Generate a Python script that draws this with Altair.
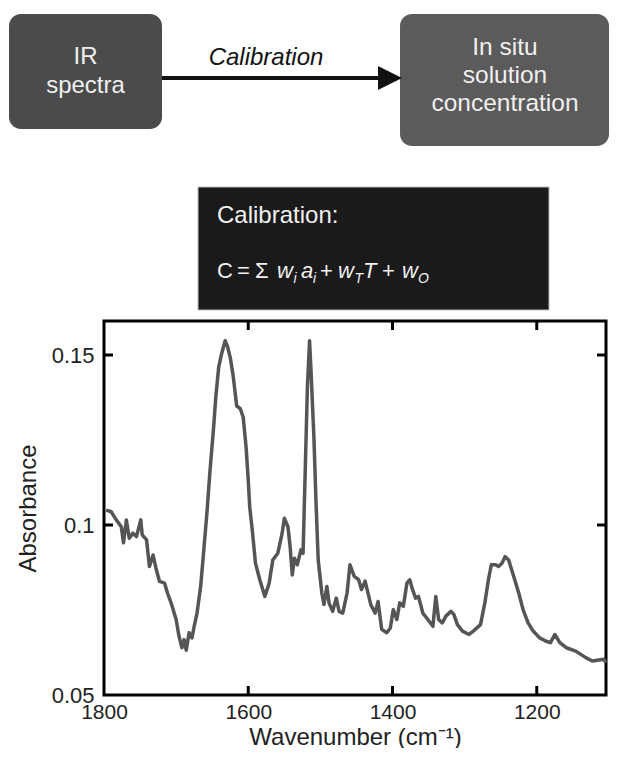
import altair as alt
import pandas as pd

# ---- data ----
wavenumber = [1797, 1790, 1783, 1776, 1773, 1769, 1765, 1760, 1755, 1749, 1747, 1741, 1737, 1732, 1728,
              1723, 1716, 1712, 1707, 1700, 1696, 1692, 1689, 1686, 1682, 1678, 1675, 1671, 1666, 1662,
              1657, 1653, 1648, 1645, 1641, 1637, 1632, 1629, 1625, 1621, 1616, 1611, 1607, 1603, 1600,
              1598, 1594, 1590, 1584, 1577, 1571, 1566, 1559, 1553, 1550, 1545, 1542, 1539, 1536, 1532,
              1527, 1524, 1521, 1518, 1515, 1513, 1509, 1506, 1503, 1498, 1495, 1491, 1488, 1483, 1478,
              1474, 1469, 1463, 1459, 1453, 1447, 1443, 1438, 1430, 1424, 1420, 1415, 1408, 1403, 1399,
              1394, 1390, 1385, 1380, 1376, 1373, 1368, 1364, 1358, 1351, 1344, 1340, 1336, 1331, 1326,
              1319, 1315, 1310, 1303, 1294, 1288, 1278, 1272, 1267, 1263, 1257, 1253, 1248, 1244, 1239,
              1232, 1225, 1219, 1212, 1205, 1196, 1187, 1181, 1175, 1168, 1159, 1146, 1132, 1123, 1114,
              1107, 1104]
absorbance = [0.1044, 0.1039, 0.1015, 0.0995, 0.0948, 0.1015, 0.0961, 0.0976, 0.0966, 0.1015, 0.0971, 0.0956, 0.0878, 0.0912, 0.0873,
              0.0834, 0.0829, 0.0800, 0.0771, 0.0722, 0.0673, 0.0639, 0.0663, 0.0632, 0.0683, 0.0668, 0.0702, 0.0741, 0.0819, 0.0917,
              0.1044, 0.1161, 0.1288, 0.1376, 0.1464, 0.1503, 0.1542, 0.1527, 0.1493, 0.1440, 0.1350, 0.1342, 0.1317, 0.1229, 0.1132,
              0.1054, 0.0976, 0.0888, 0.0839, 0.0790, 0.0829, 0.0897, 0.0917, 0.0976, 0.1020, 0.0995, 0.0937, 0.0853, 0.0902, 0.0883,
              0.0927, 0.0917, 0.1161, 0.1405, 0.1542, 0.1454, 0.1259, 0.1064, 0.0897, 0.0800, 0.0766, 0.0819, 0.0771, 0.0746, 0.0785,
              0.0746, 0.0741, 0.0800, 0.0883, 0.0849, 0.0839, 0.0810, 0.0835, 0.0765, 0.0741, 0.0775, 0.0693, 0.0683, 0.0697, 0.0751,
              0.0722, 0.0771, 0.0761, 0.0829, 0.0839, 0.0815, 0.0785, 0.0790, 0.0741, 0.0722, 0.0702, 0.0790, 0.0722, 0.0712, 0.0732,
              0.0746, 0.0737, 0.0707, 0.0688, 0.0678, 0.0688, 0.0707, 0.0771, 0.0839, 0.0883, 0.0883, 0.0878, 0.0888, 0.0907, 0.0897,
              0.0849, 0.0800, 0.0751, 0.0712, 0.0688, 0.0668, 0.0658, 0.0654, 0.0678, 0.0654, 0.0639, 0.0629, 0.0610, 0.0600, 0.0603,
              0.0605, 0.0595]
x_tick_values = [1800, 1600, 1400, 1200]
x_inner_ticks = [1600, 1400, 1200]
y_tick_values = [0.05, 0.1, 0.15]
y_inner_ticks = [0.15, 0.1]

spectrum = pd.DataFrame({"wavenumber": wavenumber, "absorbance": absorbance})
one = pd.DataFrame({"a": [0]})

FONT = "Liberation Sans"
W, H = 502, 374
PX0, PY0 = 104, 321  # page position of the plot origin

xs = alt.Scale(domain=[1104, 1800], reverse=True, zero=False, nice=False)
ys = alt.Scale(domain=[0.05, 0.16], zero=False, nice=False)

AX = alt.Axis(values=x_tick_values, format="d", title="Wavenumber (cm⁻¹)", ticks=False, domain=False,
              grid=False, labelFontSize=21, labelPadding=6, labelColor="#222",
              labelFont=FONT, labelFlush=False, labelOverlap=False,
              titleFont=FONT, titleFontSize=24, titleFontWeight="normal",
              titleColor="#222", titleY=49, titleBaseline="alphabetic")
AY = alt.Axis(values=y_tick_values, format=".2~f", title="Absorbance", ticks=False,
              domain=False, grid=False, labelFontSize=22, labelPadding=10,
              labelColor="#222", labelFont=FONT, labelFlush=False, labelOverlap=False,
              titleFont=FONT, titleFontSize=24, titleFontWeight="normal",
              titleColor="#222", titleX=-69, titleY=H / 2, titleAngle=-90,
              titleBaseline="alphabetic", titleAlign="center")

line = alt.Chart(spectrum).mark_line(color="#555555", strokeWidth=3.5, strokeJoin="round").encode(
    x=alt.X("wavenumber:Q", scale=xs, axis=AX),
    y=alt.Y("absorbance:Q", scale=ys, axis=AY),
)

xt = pd.DataFrame({"wavenumber": x_inner_ticks})
yt = pd.DataFrame({"absorbance": y_inner_ticks})
tick_top = alt.Chart(xt).mark_rule(color="black", strokeWidth=3).encode(
    x=alt.X("wavenumber:Q", scale=xs, axis=AX), y=alt.value(0), y2=alt.value(9))
tick_bot = alt.Chart(xt).mark_rule(color="black", strokeWidth=3).encode(
    x=alt.X("wavenumber:Q", scale=xs, axis=AX), y=alt.value(H - 9), y2=alt.value(H))
tick_left = alt.Chart(yt).mark_rule(color="black", strokeWidth=3).encode(
    y=alt.Y("absorbance:Q", scale=ys, axis=AY), x=alt.value(0), x2=alt.value(9))
tick_right = alt.Chart(yt).mark_rule(color="black", strokeWidth=3).encode(
    y=alt.Y("absorbance:Q", scale=ys, axis=AY), x=alt.value(W - 9), x2=alt.value(W))


def rect(x1, y1, x2, y2, fill, radius=0, stroke=None):
    kw = dict(fill=fill, cornerRadius=radius)
    if stroke:
        kw.update(stroke=stroke, strokeWidth=1)
    return alt.Chart(one).mark_rect(**kw).encode(
        x=alt.value(x1 - PX0), x2=alt.value(x2 - PX0),
        y=alt.value(y1 - PY0), y2=alt.value(y2 - PY0))


def txt(s, x, y, size=24, color="#f0f0f0", style="normal", align="left"):
    return alt.Chart(one).mark_text(text=s, font=FONT, fontSize=size, fontStyle=style, align=align,
                                    baseline="alphabetic", color=color).encode(
        x=alt.value(x - PX0), y=alt.value(y - PY0))


box1 = rect(9, 14, 162, 129, "#4b4b4b", radius=12)
box2 = rect(400, 14, 609, 146, "#5b5b5b", radius=12)
blackbox = rect(198, 187, 549, 310, "#1a1a1a", stroke="#bbbbbb")
arrow_line = alt.Chart(one).mark_rule(color="#111111", strokeWidth=4).encode(
    x=alt.value(162 - PX0), x2=alt.value(382 - PX0), y=alt.value(78 - PY0))
arrow_head = alt.Chart(one).mark_point(shape="M-1,-1L1,0L-1,1Z", size=576, filled=True,
                                       color="#111111", opacity=1).encode(
    x=alt.value(390 - PX0), y=alt.value(78 - PY0))

texts = [
    txt("IR", 85.5, 64, align="center"),
    txt("spectra", 85.5, 93, align="center"),
    txt("In situ", 505, 55, size=24.5, align="center"),
    txt("solution", 505, 83, size=24.5, align="center"),
    txt("concentration", 505, 111, size=24.5, align="center"),
    txt("Calibration", 266, 65, color="#111111", style="italic", align="center"),
    txt("Calibration:", 217, 223),
    # formula  C = Σ w_i a_i + w_T T + w_O
    txt("C", 217, 278, size=22),
    txt("=", 237, 278, size=22),
    txt("Σ", 255, 278, size=22),
    txt("w", 277, 278, size=22, style="italic"),
    txt("i", 293.5, 283, size=14, style="italic"),
    txt("a", 301, 278, size=22, style="italic"),
    txt("i", 313, 283, size=14, style="italic"),
    txt("+", 320, 278, size=22),
    txt("w", 338, 278, size=22, style="italic"),
    txt("T", 354.5, 283, size=14, style="italic"),
    txt("T", 363, 278, size=22, style="italic"),
    txt("+", 382, 278, size=22),
    txt("w", 402, 278, size=22, style="italic"),
    txt("O", 418, 283, size=14, style="italic"),
]

chart = alt.layer(
    line, tick_top, tick_bot, tick_left, tick_right,
    box1, box2, blackbox, arrow_line, arrow_head, *texts,
).properties(
    width=W, height=H,
    autosize=alt.AutoSizeParams(type="none"),
    padding={"left": 96, "top": 313, "right": 3, "bottom": 53},
    background="white",
).configure_view(stroke="black", strokeWidth=3)

chart.save("out.html", embed_options={"renderer": "svg", "actions": False})
